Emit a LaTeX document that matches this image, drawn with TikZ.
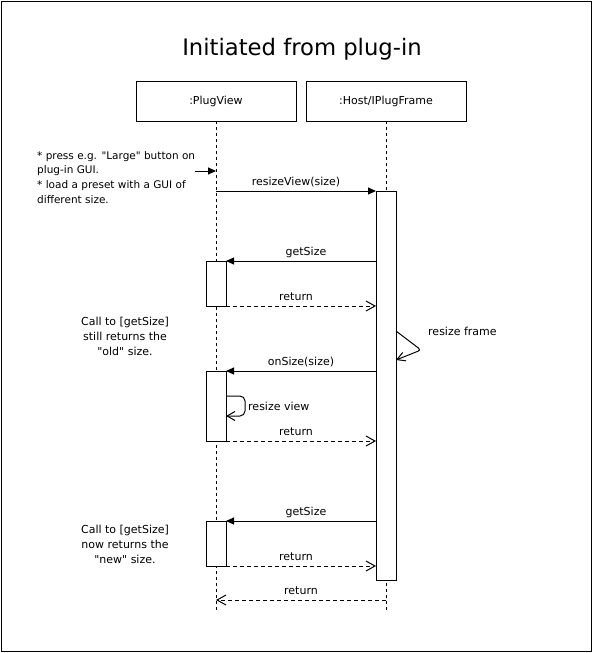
\documentclass[tikz,border=0pt]{standalone}
\usepackage{fontspec}
\setmainfont{DejaVu Sans}[Ligatures=TeXOff]
\usetikzlibrary{arrows.meta}
\begin{document}
\begin{tikzpicture}[x=1pt,y=-1pt,
  lbox/.style={draw, line width=1pt, minimum width=160pt, minimum height=40pt, inner sep=0pt, outer sep=0pt, font=\fontsize{11}{13}\selectfont},
  act/.style={draw, fill=white, line width=1pt, minimum width=20pt, inner sep=0pt, outer sep=0pt, anchor=north west},
  life/.style={line width=1pt, dash pattern=on 3pt off 3pt},
  call/.style={line width=1pt, -{Triangle[length=8pt,width=7pt]}},
  ret/.style={line width=1pt, dash pattern=on 4pt off 3pt, -{Straight Barb[length=9pt,width=10pt]}},
  self/.style={line width=1pt, -{Straight Barb[length=8pt,width=9pt]}},
  lbl/.style={font=\fontsize{11}{13}\selectfont, inner sep=0pt, anchor=base, yshift=6pt},
  note/.style={font=\fontsize{11}{15}\selectfont, inner sep=0pt, align=center}
]
\useasboundingbox (0,0) rectangle (593,653);
\draw[line width=1pt] (1,1) rectangle (591,651);
\node[font=\fontsize{22.7}{26}\selectfont, inner sep=0pt, anchor=base] (title) at (302,55) {Initiated from plug-in};

% lifeline heads
\node[lbox] (pv) at (216,101) {:PlugView};
\node[lbox] (hf) at (386,101) {:Host/IPlugFrame};
\coordinate (pvend) at (216,610);
\coordinate (hfend) at (386,610);
\draw[life] (pv.south) -- (pvend);
\draw[life] (hf.south) -- (hfend);

% activations
\node[act, minimum height=389pt] (ha) at (376,191) {};
\node[act, minimum height=45pt] (pa1) at (206,261) {};
\node[act, minimum height=70pt] (pa2) at (206,371) {};
\node[act, minimum height=45pt] (pa3) at (206,521) {};

% note top-left
\node[font=\fontsize{10.5}{14.7}\selectfont, inner sep=0pt, align=left, anchor=north west] (n0) at (37,151)
  {* press e.g. "Large" button on\\plug-in GUI.\\* load a preset with a GUI of\\different size.};
\coordinate (na) at (195,171);
\coordinate (nb) at (216,171);
\draw[call] (na) -- (nb);

% resizeView
\coordinate (s1) at (216,191);
\draw[call] (s1) -- (ha.north west) node[lbl, midway] {resizeView(size)};

% getSize 1
\coordinate (g1) at (376,261);
\draw[call] (g1) -- (pa1.north east) node[lbl, midway, xshift=5pt] {getSize};
\coordinate (r1) at (376,306);
\draw[ret] (pa1.south east) -- (r1) node[lbl, midway, xshift=-5pt] {return};

% resize frame
\coordinate (rf1) at (396,331);
\coordinate (rf2) at (421,350);
\coordinate (rf3) at (396,360);
\draw[self, rounded corners=3pt] (rf1) -- (rf2) -- (rf3);
\node[font=\fontsize{11}{13}\selectfont, inner sep=0pt, anchor=base west] (rfl) at (428,335) {resize frame};

% onSize
\coordinate (o1) at (376,371);
\draw[call] (o1) -- (pa2.north east) node[lbl, midway] {onSize(size)};

% resize view
\coordinate (rv1) at (226,396);
\coordinate (rv2) at (245,396);
\coordinate (rv3) at (245,416);
\coordinate (rv4) at (226,416);
\draw[self, rounded corners=5pt] (rv1) -- (rv2) -- (rv3) -- (rv4);
\node[font=\fontsize{11}{13}\selectfont, inner sep=0pt, anchor=base west] (rvl) at (248,410) {resize view};

\coordinate (r2) at (376,441);
\draw[ret] (pa2.south east) -- (r2) node[lbl, midway, xshift=-5pt] {return};

% note middle
\node[note] (n1) at (125,336) {Call to [getSize]\\still returns the\\"old" size.};

% getSize 2
\coordinate (g2) at (376,521);
\draw[call] (g2) -- (pa3.north east) node[lbl, midway, xshift=5pt] {getSize};
\coordinate (r3) at (376,566);
\draw[ret] (pa3.south east) -- (r3) node[lbl, midway, xshift=-5pt] {return};

\node[note] (n2) at (125,544) {Call to [getSize]\\now returns the\\"new" size.};

% final return
\coordinate (f1) at (386,600);
\coordinate (f2) at (216,600);
\draw[ret] (f1) -- (f2) node[lbl, midway] {return};
\end{tikzpicture}
\end{document}
